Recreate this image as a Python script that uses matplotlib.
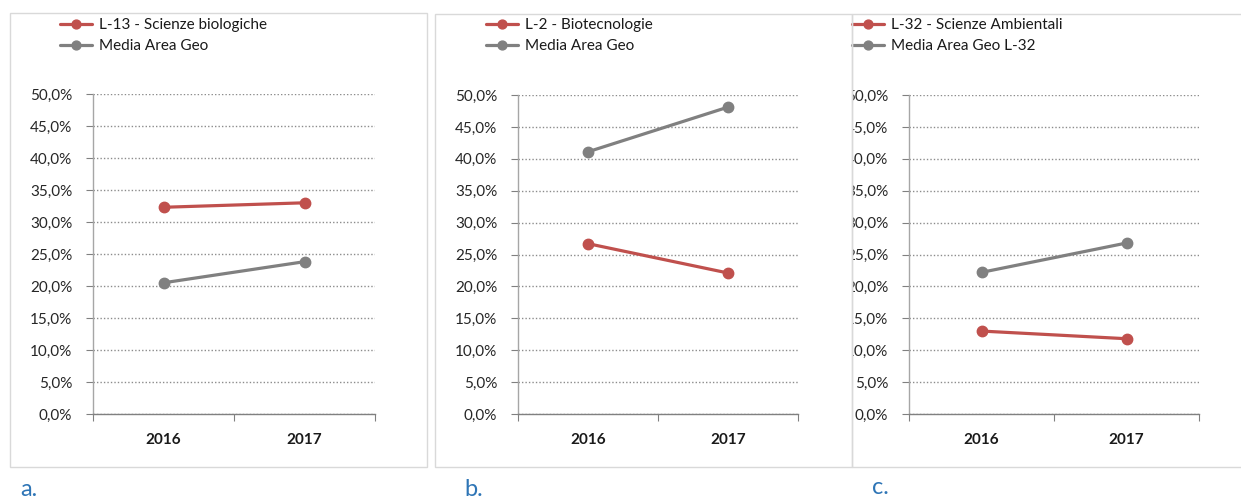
import matplotlib
matplotlib.use("Agg")
import matplotlib.pyplot as plt
from matplotlib.patches import Rectangle
from matplotlib.ticker import FuncFormatter, MultipleLocator
from matplotlib.transforms import Bbox

years = ["2016", "2017"]
a_series = "L-13 - Scienze biologiche"
a_values = [32.3, 33.0]
a_geo_label = "Media Area Geo"
a_geo = [20.5, 23.8]
b_series = "L-2 - Biotecnologie"
b_values = [26.7, 22.1]
b_geo_label = "Media Area Geo"
b_geo = [41.1, 48.1]
c_series = "L-32 - Scienze Ambientali"
c_values = [13.0, 11.8]
c_geo_label = "Media Area Geo L-32"
c_geo = [22.2, 26.8]
panel_letters = ["a.", "b.", "c."]

W, H = 1241, 500
RED = "#C0504D"
GRAY = "#808080"
FONT = ["Lato", "DejaVu Sans"]
plt.rcParams["font.family"] = FONT

fig = plt.figure(figsize=(W / 100, H / 100), dpi=100)

def fx(px):
    return px / W

def fy(py):
    return 1 - py / H

# frames (pixel coords: x0, y0, x1, y1)
frames = [(10, 13, 427, 467), (435, 14, 852, 467), (852, 14, 1260, 467)]
for x0, y0, x1, y1 in frames:
    fig.add_artist(Rectangle((fx(x0), fy(y1)), fx(x1 - x0), (y1 - y0) / H,
                             transform=fig.transFigure, fill=False,
                             edgecolor="#D9D9D9", linewidth=1.0, clip_on=False))

# axes layout (pixel): left, right, top(50%), bottom(0%)
axes_px = [(93, 375, 94, 414), (518, 798, 95, 414), (909, 1199, 95, 414)]
legend_px = [(60, 18), (486, 18), (852, 18)]
letter_px = [(20, 490), (464, 490), (872, 487)]

data = [(a_series, a_values, a_geo_label, a_geo),
        (b_series, b_values, b_geo_label, b_geo),
        (c_series, c_values, c_geo_label, c_geo)]

fmt = FuncFormatter(lambda v, p: f"{v:.1f}".replace(".", ",") + "%")

for i, ((l, r, t, b), (s1, v1, s2, v2)) in enumerate(zip(axes_px, data)):
    ax = fig.add_axes([fx(l), fy(b), fx(r - l), (b - t) / H])
    xs = [0.5, 1.5]
    ax.plot(xs, v1, color=RED, lw=2.3, marker="o", ms=7.5, label=s1,
            solid_capstyle="round", clip_on=False, zorder=3)
    ax.plot(xs, v2, color=GRAY, lw=2.3, marker="o", ms=7.5, label=s2,
            solid_capstyle="round", clip_on=False, zorder=3)
    ax.set_xlim(0, 2)
    ax.set_ylim(0, 50)
    ax.yaxis.set_major_locator(MultipleLocator(5))
    ax.yaxis.set_major_formatter(fmt)
    ax.set_xticks([0, 1, 2])
    ax.set_xticklabels([])
    ax.set_xticks(xs, minor=True)
    ax.set_xticklabels(years, minor=True, fontweight="bold", fontsize=11,
                       color="#1a1a1a")
    ax.tick_params(axis="x", which="minor", length=0, pad=14)
    ax.tick_params(axis="x", which="major", length=5, color=GRAY, direction="out")
    ax.tick_params(axis="y", length=5, color=GRAY, labelsize=11,
                   labelcolor="#262626", pad=10)
    ax.grid(axis="y", linestyle=(0, (1, 1.5)), color="#8c8c8c", lw=1.0)
    ax.set_axisbelow(True)
    for sp in ["top", "right"]:
        ax.spines[sp].set_visible(False)
    ax.spines["left"].set_color("#a6a6a6")
    ax.spines["bottom"].set_color(GRAY)
    ax.spines["left"].set_linewidth(1.0)
    ax.spines["bottom"].set_linewidth(1.0)

    lx, ly = legend_px[i]
    leg = ax.legend(loc="upper left", bbox_to_anchor=(fx(lx), fy(ly)),
                    bbox_transform=fig.transFigure, frameon=False,
                    fontsize=11, handlelength=2.1, handletextpad=0.45,
                    labelspacing=0.45, borderaxespad=0, borderpad=0,
                    markerscale=0.85)
    for txt in leg.get_texts():
        txt.set_color("#1a1a1a")

    if i == 2:
        clip = Bbox.from_extents(852, 0, W, H)
        fig.canvas.draw()
        for lab in ax.get_yticklabels():
            lab.set_clip_box(clip)
            lab.set_clip_on(True)

    px, py = letter_px[i]
    fig.text(fx(px), fy(py), panel_letters[i], color="#2E75B6", fontsize=17,
             va="center", ha="left")

fig.savefig("out.png", dpi=100)
